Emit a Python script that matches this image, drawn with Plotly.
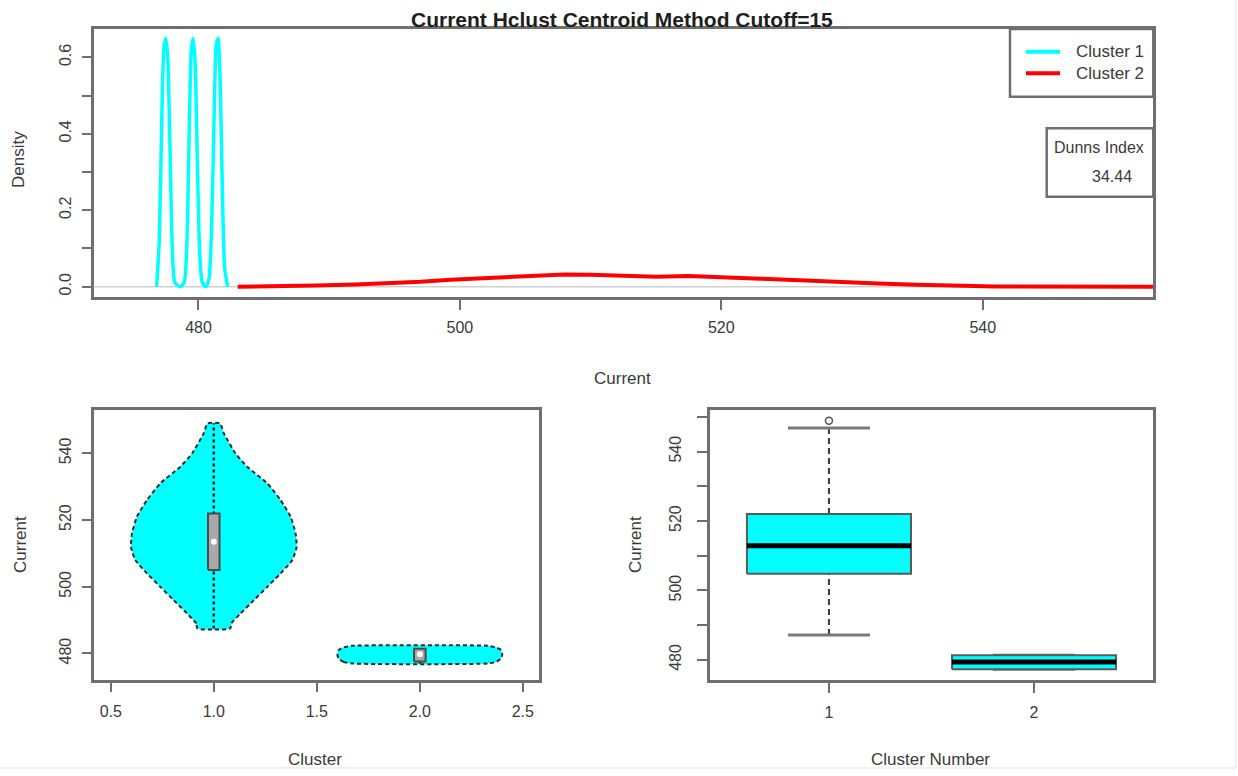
import plotly.graph_objects as go

W, H = 1238, 776

# ---- density curves (top panel) ----
dens_c1_x = [476.8, 477.0, 477.2, 477.35, 477.5, 477.65, 477.8, 478.0, 478.2, 478.6,
             478.9, 479.1, 479.3, 479.45, 479.6, 479.75, 479.9, 480.1, 480.3, 480.55,
             480.8, 481.0, 481.2, 481.35, 481.5, 481.65, 481.8, 482.0, 482.23]
dens_c1_y = [0.0, 0.12, 0.45, 0.62, 0.65, 0.60, 0.40, 0.10, 0.01, 0.0,
             0.01, 0.10, 0.42, 0.62, 0.65, 0.58, 0.35, 0.08, 0.01, 0.0,
             0.02, 0.15, 0.45, 0.63, 0.65, 0.55, 0.30, 0.05, 0.0]

dens_c2_x = [483.0, 486.0, 489.0, 492.0, 494.5, 497.0, 499.3, 502.5, 505.5, 508.0,
             510.0, 512.0, 515.0, 517.5, 520.0, 523.0, 526.5, 529.5, 532.0, 535.0,
             538.0, 541.0, 553.1]
dens_c2_y = [0.0, 0.001, 0.003, 0.006, 0.009, 0.013, 0.018, 0.023, 0.027, 0.032,
             0.031, 0.028, 0.026, 0.028, 0.026, 0.021, 0.016, 0.011, 0.008, 0.005,
             0.002, 0.0005, 0.0]

legend_labels = ["Cluster 1", "Cluster 2"]
dunn_index = 34.44
cutoff = 15

# ---- violin profiles (bottom-left panel): current value vs half width ----
vio1_y = [487.5, 489.0, 492.0, 496.0, 500.0, 504.0, 508.0, 512.0, 516.0, 521.0,
          526.0, 531.0, 536.0, 540.0, 546.0, 549.0]
vio1_hw = [0.08, 0.085, 0.13, 0.195, 0.26, 0.324, 0.381, 0.402, 0.397, 0.373,
           0.324, 0.26, 0.162, 0.105, 0.049, 0.03]
vio2_y = [477.0, 477.5, 478.5, 479.8, 481.0, 481.8, 482.3]
vio2_hw = [0.33, 0.37, 0.395, 0.40, 0.395, 0.37, 0.33]

vio_centers = [1.0, 2.0]
vio_q1 = [505.0, 477.6]
vio_q3 = [522.0, 481.4]
vio_med = [513.5, 479.8]
vio_min = [487.5, 477.0]
vio_max = [549.0, 482.3]

# ---- boxplot stats (bottom-right panel) ----
box_pos = [1, 2]
box_q1 = [504.8, 477.3]
box_med = [512.9, 479.4]
box_q3 = [522.0, 481.3]
box_lo = [487.2, 477.3]
box_hi = [546.8, 481.3]
box_out_x = [1]
box_out_y = [548.9]

CYAN = "#00FFFF"
RED = "#FF0000"
FRAME = "#6f6f6f"
TXT = "#3a3a3a"
FONT = "Liberation Sans, Arial, sans-serif"
FS = 16


def px_x(p):
    return p / W


def px_y(p):
    return 1 - p / H


fig = go.Figure()

# zero reference line under densities
fig.add_trace(go.Scatter(x=[472.03, 553.05], y=[0, 0], mode="lines",
                         line=dict(color="#cfcfcf", width=1.5),
                         xaxis="x", yaxis="y", hoverinfo="skip"))
fig.add_trace(go.Scatter(x=dens_c1_x, y=dens_c1_y, mode="lines", name=legend_labels[0],
                         line=dict(color=CYAN, width=3.5, shape="spline", smoothing=0.6),
                         xaxis="x", yaxis="y"))
fig.add_trace(go.Scatter(x=dens_c2_x, y=dens_c2_y, mode="lines", name=legend_labels[1],
                         line=dict(color=RED, width=4),
                         xaxis="x", yaxis="y"))

# violins
for c, ys, hws in [(vio_centers[0], vio1_y, vio1_hw), (vio_centers[1], vio2_y, vio2_hw)]:
    xs = [c - h for h in hws] + [c + h for h in reversed(hws)] + [c - hws[0]]
    yy = list(ys) + list(reversed(ys)) + [ys[0]]
    fig.add_trace(go.Scatter(x=xs, y=yy, mode="lines", fill="toself", fillcolor=CYAN,
                             line=dict(color="#2a2a2a", width=2, dash="4px,3px",
                                       shape="spline", smoothing=0.5),
                             xaxis="x2", yaxis="y2", hoverinfo="skip"))
for i, c in enumerate(vio_centers):
    # whisker
    fig.add_trace(go.Scatter(x=[c, c], y=[vio_min[i], vio_max[i]], mode="lines",
                             line=dict(color="#1a1a1a", width=2.5, dash="3px,3px"),
                             xaxis="x2", yaxis="y2", hoverinfo="skip"))
    bw = 0.028
    fig.add_trace(go.Scatter(x=[c - bw, c + bw, c + bw, c - bw, c - bw],
                             y=[vio_q1[i], vio_q1[i], vio_q3[i], vio_q3[i], vio_q1[i]],
                             mode="lines", fill="toself", fillcolor="#a8a8a8",
                             line=dict(color="#4a4a4a", width=2),
                             xaxis="x2", yaxis="y2", hoverinfo="skip"))
    fig.add_trace(go.Scatter(x=[c], y=[vio_med[i]], mode="markers",
                             marker=dict(color="white", size=6, line=dict(width=0)),
                             xaxis="x2", yaxis="y2", hoverinfo="skip"))

# boxplots
for i, p in enumerate(box_pos):
    half = 0.4
    cap = 0.2
    fig.add_trace(go.Scatter(x=[p, p], y=[box_q3[i], box_hi[i]], mode="lines",
                             line=dict(color="#3a3a3a", width=2, dash="6px,4px"),
                             xaxis="x3", yaxis="y3", hoverinfo="skip"))
    fig.add_trace(go.Scatter(x=[p, p], y=[box_lo[i], box_q1[i]], mode="lines",
                             line=dict(color="#3a3a3a", width=2, dash="6px,4px"),
                             xaxis="x3", yaxis="y3", hoverinfo="skip"))
    fig.add_trace(go.Scatter(x=[p - cap, p + cap], y=[box_hi[i], box_hi[i]], mode="lines",
                             line=dict(color="#7a7a7a", width=3),
                             xaxis="x3", yaxis="y3", hoverinfo="skip"))
    fig.add_trace(go.Scatter(x=[p - cap, p + cap], y=[box_lo[i], box_lo[i]], mode="lines",
                             line=dict(color="#7a7a7a", width=3),
                             xaxis="x3", yaxis="y3", hoverinfo="skip"))
    fig.add_trace(go.Scatter(x=[p - half, p + half, p + half, p - half, p - half],
                             y=[box_q1[i], box_q1[i], box_q3[i], box_q3[i], box_q1[i]],
                             mode="lines", fill="toself", fillcolor=CYAN,
                             line=dict(color="#5a5a5a", width=2),
                             xaxis="x3", yaxis="y3", hoverinfo="skip"))
    fig.add_trace(go.Scatter(x=[p - half, p + half], y=[box_med[i], box_med[i]], mode="lines",
                             line=dict(color="black", width=5),
                             xaxis="x3", yaxis="y3", hoverinfo="skip"))
fig.add_trace(go.Scatter(x=box_out_x, y=box_out_y, mode="markers",
                         marker=dict(symbol="circle-open", size=7, color="#555555", line=dict(width=1.5)),
                         xaxis="x3", yaxis="y3", hoverinfo="skip"))

axis_common = dict(showgrid=False, zeroline=False, showline=True, mirror=True,
                   linecolor=FRAME, linewidth=2.5, ticks="outside", ticklen=10,
                   tickwidth=2, tickcolor=FRAME,
                   tickfont=dict(family=FONT, size=FS, color=TXT))

fig.update_layout(
    width=W, height=H, autosize=False,
    margin=dict(l=0, r=0, t=0, b=0),
    paper_bgcolor="white", plot_bgcolor="white",
    showlegend=False,
    font=dict(family=FONT, color=TXT),
    xaxis=dict(axis_common, domain=[px_x(94.3), px_x(1153.3)], range=[472.03, 553.05],
               tickvals=[480, 500, 520, 540], anchor="y", ticklabelstandoff=4),
    yaxis=dict(axis_common, domain=[px_y(297), px_y(29)], range=[-0.027, 0.674],
               tickvals=[0, 0.2, 0.4, 0.6], ticktext=["0.0", "0.2", "0.4", "0.6"],
               tickangle=-90, anchor="x", ticklabelstandoff=4,
               minor=dict(tickvals=[0.1, 0.3, 0.5], ticks="outside", ticklen=10,
                          tickwidth=2, tickcolor=FRAME)),
    xaxis2=dict(axis_common, domain=[px_x(94.3), px_x(539.3)], range=[0.42, 2.58],
                tickvals=[0.5, 1.0, 1.5, 2.0, 2.5], ticktext=["0.5", "1.0", "1.5", "2.0", "2.5"],
                anchor="y2", ticklabelstandoff=6),
    yaxis2=dict(axis_common, domain=[px_y(679.5), px_y(410)], range=[472.2, 553.0],
                tickvals=[480, 500, 520, 540], tickangle=-90, anchor="x2", ticklabelstandoff=4),
    xaxis3=dict(axis_common, domain=[px_x(710), px_x(1153)], range=[0.42, 2.58],
                tickvals=[1, 2], ticktext=["1", "2"], anchor="y3", ticklabelstandoff=6),
    yaxis3=dict(axis_common, domain=[px_y(680), px_y(410)], range=[474.2, 552.0],
                tickvals=[480, 500, 520, 540], tickangle=-90, anchor="x3", ticklabelstandoff=10,
                minor=dict(tickvals=[490, 510, 530, 550], ticks="outside", ticklen=10,
                           tickwidth=2, tickcolor=FRAME)),
)

ann = []


def label(text, x, y, size=FS, angle=0, xanchor="center", color=TXT):
    ann.append(dict(text=text, x=px_x(x), y=px_y(y), xref="paper", yref="paper",
                    xanchor=xanchor, yanchor="middle", showarrow=False, textangle=angle,
                    font=dict(family=FONT, size=size, color=color)))


# main title
label(f"<b>Current Hclust Centroid Method Cutoff={cutoff}</b>", 622, 19, size=21, color="#1e1e1e")
# axis titles
for txt, x, y, ang in [("Current", 622, 378, 0), ("Density", 19, 160, -90),
                       ("Cluster", 315, 759, 0), ("Current", 20, 545, -90),
                       ("Cluster Number", 930, 759, 0), ("Current", 635, 545, -90)]:
    label(txt, x, y, size=17, angle=ang)

# legend box with entries
shapes = []
shapes.append(dict(type="rect", xref="paper", yref="paper",
                   x0=px_x(1010), x1=px_x(1153.3), y0=px_y(96.7), y1=px_y(29),
                   line=dict(color=FRAME, width=2.5), fillcolor="white"))
for lab, col, yy in [(legend_labels[0], CYAN, 51.7), (legend_labels[1], RED, 73.3)]:
    shapes.append(dict(type="line", xref="paper", yref="paper",
                       x0=px_x(1026), x1=px_x(1060), y0=px_y(yy), y1=px_y(yy),
                       line=dict(color=col, width=4)))
    label(lab, 1074, yy, size=17, xanchor="left")

# Dunn index box
shapes.append(dict(type="rect", xref="paper", yref="paper",
                   x0=px_x(1046.7), x1=px_x(1153.3), y0=px_y(196.7), y1=px_y(128.3),
                   line=dict(color=FRAME, width=2.5), fillcolor="white"))
label("Dunns Index", 1099, 147.5, size=16)
label(f"{dunn_index:.2f}", 1111.5, 177, size=16)

# faint outer edge lines of the image frame
shapes.append(dict(type="line", xref="paper", yref="paper", x0=0, x1=px_x(1236),
                   y0=px_y(768), y1=px_y(768), line=dict(color="#ececec", width=1.5)))
shapes.append(dict(type="line", xref="paper", yref="paper", x0=px_x(1236), x1=px_x(1236),
                   y0=px_y(768), y1=1, line=dict(color="#ececec", width=1.5)))

fig.update_layout(annotations=ann, shapes=shapes)

fig.write_html("out.html")
